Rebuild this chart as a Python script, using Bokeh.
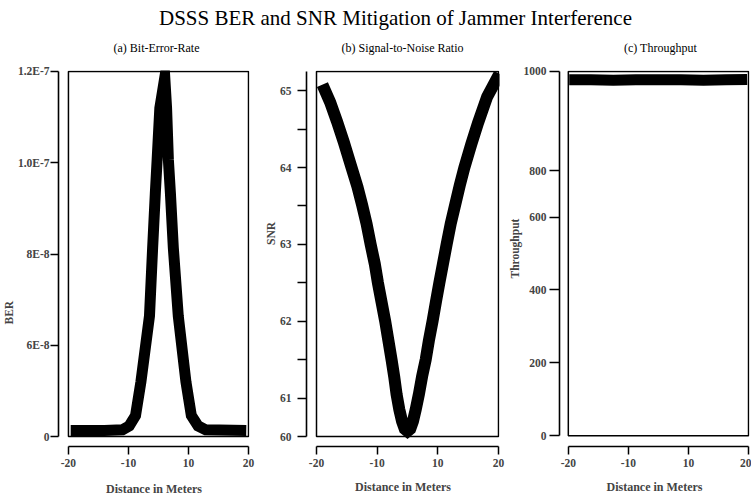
from bokeh.plotting import figure
from bokeh.layouts import column, row
from bokeh.models import FixedTicker, CustomJSTickFormatter, Range1d, Title
from bokeh.core.properties import value
from bokeh.embed import file_html
from bokeh.resources import INLINE

# ---------------- data ----------------
main_title = "DSSS BER and SNR Mitigation of Jammer Interference"
panel_titles = ["(a) Bit-Error-Rate", "(b) Signal-to-Noise Ratio", "(c) Throughput"]
x_label = "Distance in Meters"
y_labels = ["BER", "SNR", "Throughput"]

x_tick_values = [-20, -20 / 3, 20 / 3, 20]
x_tick_labels = ["-20", "-10", "10", "20"]

ber_tick_values = [0, 3e-8, 6e-8, 9e-8, 1.2e-7]
ber_tick_labels = ["0", "6E-8", "8E-8", "1.0E-7", "1.2E-7"]

snr_tick_values = [60.5, 61, 61.5, 62, 62.5, 63, 63.5, 64, 64.5, 65]
snr_tick_labels = ["60", "61", "", "62", "", "63", "", "64", "", "65"]

tp_tick_values = [0, 200, 400, 600, 727, 1000]
tp_tick_labels = ["0", "200", "400", "600", "800", "1000"]

distance_ber = [-19.5, -12, -8, -6.5, -5.1, -3.9, -2.0, -1.3, -0.7, -0.3, 0.3, 1.4,
                1.8, 2.2, 2.65, 3.3, 4.4, 6.1, 7.3, 8.8, 10.5, 19.5]
ber = [2.0e-9, 2.0e-9, 2.2e-9, 3.5e-9, 6.9e-9, 1.8e-8, 3.96e-8, 6.2e-8, 8.0e-8, 9.1e-8, 1.08e-7, 1.18e-7,
       1.08e-7, 9.1e-8, 8.0e-8, 6.2e-8, 3.96e-8, 1.8e-8, 6.9e-9, 3.5e-9, 2.2e-9, 2.0e-9]

distance_snr = [-18.7, -17, -15.5, -14, -12.3, -11, -10, -9, -8.1, -7.2, -6.5, -5.7, -4.9, -4.2,
                -3.5, -2.9, -2.4, -1.8, -1.2, -0.6, 0,
                0.6, 1.2, 1.8, 2.5, 3.2, 4, 4.7, 5.5, 6.3, 7, 7.8, 8.6, 9.5, 10.5, 11.5, 12.5,
                14, 15.5, 17.5, 20.2]
snr = [65.08, 64.85, 64.6, 64.33, 64.0, 63.75, 63.52, 63.27, 63.0, 62.75, 62.5, 62.25, 62.0, 61.75,
       61.5, 61.27, 61.05, 60.85, 60.7, 60.6, 60.57,
       60.6, 60.7, 60.85, 61.05, 61.28, 61.5, 61.75, 62.0, 62.27, 62.5, 62.75, 63.0, 63.27, 63.52, 63.77, 64.0,
       64.3, 64.58, 64.92, 65.22]

distance_tp = [-19.8, -15, -10, -5, 0, 5, 10, 15, 19.7]
throughput = [977, 977, 976, 977, 977, 977, 976, 977, 978]

# ---------------- layout geometry (pixels) ----------------
FONT = "Liberation Serif"
ROW_TOP = 60
PAGE_H = 498
PAGE_W = 751

panels = [
    dict(fx=0, w=262, frame=(57, 249, 70, 448), box=(67, 248, 71, 438),
         data=(-20, 20, 0, 1.2e-7), tick_out=8, standoff=1, xtick_standoff=4, xlab_standoff=12,
         title_xy=(156, 47), ylab_center=313, ylab_len=26),
    dict(fx=262, w=244, frame=(306, 499, 68, 446), box=(316, 498, 69, 436),
         data=(-20, 20, 60.5, 65.25), tick_out=9, standoff=6, xtick_standoff=4, xlab_standoff=10,
         title_xy=(402, 47), ylab_center=232, ylab_len=25),
    dict(fx=506, w=245, frame=(555, 749, 65, 446), box=(564, 748, 66, 435),
         data=(-20, 20, 0, 1000), tick_out=10, standoff=3, xtick_standoff=4, xlab_standoff=10,
         title_xy=(660, 47), ylab_center=248, ylab_len=60),
]


def px_to_x(px, g):
    bl, br, _, _ = g["box"]
    x0, x1, _, _ = g["data"]
    return x0 + (px - bl) * (x1 - x0) / (br - bl)


def py_to_y(py, g):
    _, _, bt, bb = g["box"]
    _, _, y0, y1 = g["data"]
    return y0 + (bb - py) * (y1 - y0) / (bb - bt)


def make_panel(i, xs, ys, line_w, y_ticks, y_tick_labels):
    g = panels[i]
    fl, fr, ft, fb = g["frame"]
    p = figure(width=g["w"], height=PAGE_H - ROW_TOP, toolbar_location=None, output_backend="svg",
               min_border_left=fl - g["fx"], min_border_right=g["fx"] + g["w"] - fr,
               min_border_top=ft - ROW_TOP, min_border_bottom=PAGE_H - fb,
               x_range=Range1d(px_to_x(fl, g), px_to_x(fr, g)),
               y_range=Range1d(py_to_y(fb, g), py_to_y(ft, g)))
    p.outline_line_color = None
    p.grid.visible = False

    x0, x1, y0, y1 = g["data"]
    # plot box
    p.quad(left=[x0], right=[x1], bottom=[y0], top=[y1], fill_color=None,
           line_color="black", line_width=1.5)

    # data
    p.line(xs, ys, line_color="black", line_width=line_w, line_join="miter")

    xa = p.xaxis[0]
    xa.ticker = FixedTicker(ticks=x_tick_values)
    xa.formatter = CustomJSTickFormatter(args=dict(labels=x_tick_labels), code="return labels[index]")
    xa.bounds = (x0, x1)
    xa.axis_line_color = "black"
    xa.axis_line_width = 1.6
    xa.major_tick_out = 8
    xa.major_tick_in = 0
    xa.major_tick_line_width = 1.5
    xa.minor_tick_line_color = None
    xa.major_label_text_font = FONT
    xa.major_label_text_font_size = "11.5px"
    xa.major_label_text_font_style = "bold"
    xa.major_label_standoff = g["xtick_standoff"]
    xa.axis_label = x_label
    xa.axis_label_text_font = FONT
    xa.axis_label_text_font_size = "12px"
    xa.axis_label_text_font_style = "bold"
    xa.axis_label_standoff = g["xlab_standoff"]

    ya = p.yaxis[0]
    ya.ticker = FixedTicker(ticks=y_ticks)
    ya.formatter = CustomJSTickFormatter(args=dict(labels=y_tick_labels), code="return labels[index]")
    ya.bounds = (y0, y1)
    ya.axis_line_color = "black"
    ya.axis_line_width = 1.6
    ya.major_tick_out = g["tick_out"]
    ya.major_tick_in = 0
    ya.major_tick_line_width = 1.5
    ya.minor_tick_line_color = None
    ya.major_label_text_font = FONT
    ya.major_label_text_font_size = "11.5px"
    ya.major_label_text_font_style = "bold"
    ya.major_label_standoff = g["standoff"]

    start = g["ylab_center"] + g["ylab_len"] / 2
    p.add_layout(Title(text=y_labels[i], align="left", offset=fb - start, standoff=0,
                       text_font=FONT, text_font_size="11.5px", text_font_style="bold"), "left")
    return p


pa = make_panel(0, distance_ber, ber, 11, ber_tick_values, ber_tick_labels)
pb = make_panel(1, distance_snr, snr, 12, snr_tick_values, snr_tick_labels)
pc = make_panel(2, distance_tp, throughput, 11, tp_tick_values, tp_tick_labels)

# title strip: main title and the three panel titles
pt = figure(width=PAGE_W, height=ROW_TOP, toolbar_location=None, output_backend="svg",
            x_range=Range1d(0, PAGE_W), y_range=Range1d(ROW_TOP, 0), min_border=0)
pt.axis.visible = False
pt.grid.visible = False
pt.outline_line_color = None
pt.text(x=[395], y=[17], text=[main_title], text_align="center", text_baseline="middle",
        text_font=value(FONT), text_font_size="21px", text_color="black")
pt.text(x=[g["title_xy"][0] for g in panels], y=[g["title_xy"][1] for g in panels], text=panel_titles,
        text_align="center", text_baseline="middle", text_font=value(FONT), text_font_size="12px",
        text_color="black")

layout = column(pt, row(pa, pb, pc, spacing=0), spacing=0)
open("out.html", "w").write(file_html(layout, INLINE))
